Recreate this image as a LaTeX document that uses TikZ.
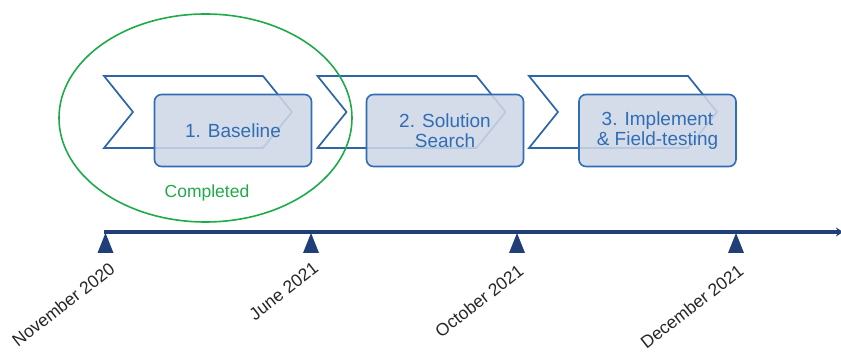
\documentclass[tikz,border=0pt]{standalone}
\usepackage{fontspec}
\setmainfont{Liberation Sans}
\usetikzlibrary{arrows.meta}

\definecolor{chevblue}{HTML}{2E64A8}
\definecolor{boxfill}{HTML}{CED6E6}
\definecolor{boxline}{HTML}{2F6DB5}
\definecolor{navy}{HTML}{203F78}
\definecolor{donegreen}{HTML}{1FAA4A}

\begin{document}
\begin{tikzpicture}[x=1pt, y=1pt, >=Stealth,
    chev/.style={draw=chevblue, line width=1.7pt},
    phase/.style={draw=boxline, line width=1.6pt, fill=boxfill, fill opacity=0.88,
        text opacity=1, rounded corners=7pt, minimum width=157pt, minimum height=72pt,
        text=boxline, align=center, font=\fontsize{19}{20}\selectfont},
    tick/.style={fill=navy},
    date/.style={rotate=38, anchor=east, inner sep=0pt, text=black!85,
        font=\fontsize{17.5}{20}\selectfont}]

    \useasboundingbox (0,0) rectangle (841,352);

    % Chevrons
    \draw[chev] (104,276) -- ++(159,0) -- ++(29,-36) -- ++(-29,-36) -- ++(-159,0) -- ++(29,36) -- cycle;
    \draw[chev] (317.5,276) -- ++(159,0) -- ++(29,-36) -- ++(-29,-36) -- ++(-159,0) -- ++(29,36) -- cycle;
    \draw[chev] (529,276) -- ++(159,0) -- ++(29,-36) -- ++(-29,-36) -- ++(-159,0) -- ++(29,36) -- cycle;

    % Nodes
    \node[phase] (P1) at (233,221.5) {1. Baseline};
    \node[phase] (P2) at (445,221.5) {2. Solution\\Search};
    \node[phase] (P3) at (657.5,221.5) {3. Implement\\\& Field-testing};

    \coordinate (done) at (205.5,234);
    \draw[donegreen, line width=1.6pt] (done) ellipse [x radius=146.5pt, y radius=104pt];
    \node[text=donegreen, font=\fontsize{17.5}{20}\selectfont] (C) at (207,159) {Completed};

    % Timeline
    \coordinate (T1) at (105.5,120);
    \coordinate (T2) at (311,120);
    \coordinate (T3) at (517,120);
    \coordinate (T4) at (736,120);
    \coordinate (Tend) at (843,120);
    \draw[navy, line width=3.5pt, -{Stealth[length=7pt, width=9pt]}] ([xshift=-2pt]T1) -- (Tend);

    \fill[tick] ([yshift=-1pt]T1) -- ++(8,-20) -- ++(-16,0) -- cycle;
    \fill[tick] ([yshift=-1pt]T2) -- ++(8,-20) -- ++(-16,0) -- cycle;
    \fill[tick] ([yshift=-1pt]T3) -- ++(8,-20) -- ++(-16,0) -- cycle;
    \fill[tick] ([yshift=-1pt]T4) -- ++(8,-20) -- ++(-16,0) -- cycle;

    \node[date] (D1) at ([xshift=7pt, yshift=-34pt]T1) {November 2020};
    \node[date] (D2) at ([xshift=5pt, yshift=-34pt]T2) {June 2021};
    \node[date] (D3) at ([xshift=4pt, yshift=-36pt]T3) {October 2021};
    \node[date] (D4) at ([xshift=5pt, yshift=-36pt]T4) {December 2021};
\end{tikzpicture}
\end{document}
